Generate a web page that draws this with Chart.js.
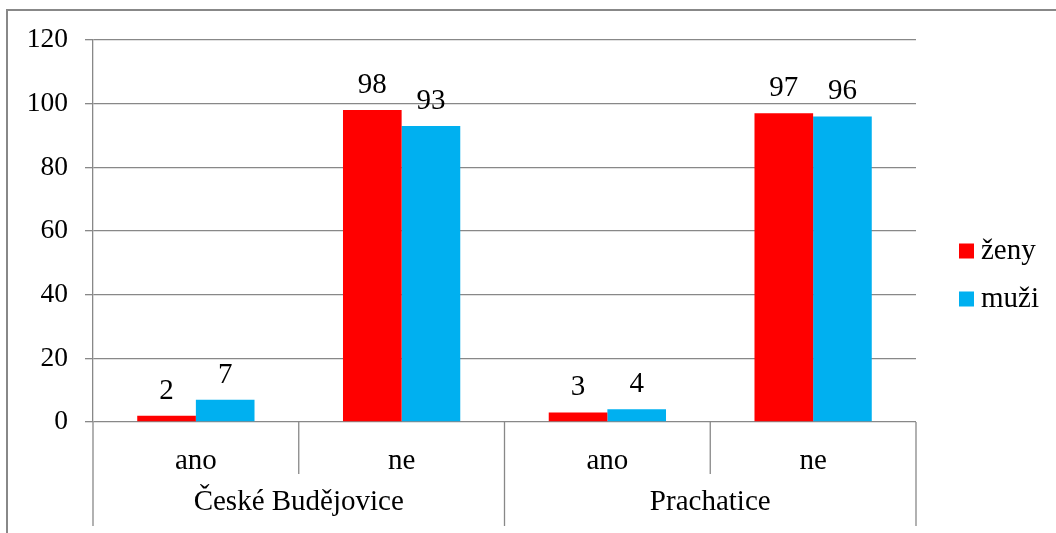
<!DOCTYPE html>
<html>
<head>
<meta charset="utf-8">
<script src="https://cdn.jsdelivr.net/npm/chart.js@4/dist/chart.umd.min.js"></script>
<style>
  html, body { margin: 0; padding: 0; background: #fff; }
  #wrap { width: 1056px; height: 533px; position: relative; }
</style>
</head>
<body>
<div id="wrap"><canvas id="c"></canvas></div>
<script>
// Answers per town, split by answer (ano / ne)
const answerLabels = ['ano', 'ne', 'ano', 'ne'];
const townLabels = ['České Budějovice', 'Prachatice'];
const zenyValues = [2, 98, 3, 97];
const muziValues = [7, 93, 4, 96];
const yTicks = [0, 20, 40, 60, 80, 100, 120];

const FONT = 'Liberation Serif, "Times New Roman", serif';
const GRID = '#888888';

// Outer frame (left and top edge of the chart box)
const framePlugin = {
  id: 'frame',
  afterDraw(chart) {
    const ctx = chart.ctx;
    ctx.save();
    ctx.strokeStyle = GRID;
    ctx.lineWidth = 2;
    ctx.beginPath();
    ctx.moveTo(7, chart.height);
    ctx.lineTo(7, 10);
    ctx.lineTo(chart.width, 10);
    ctx.stroke();
    ctx.restore();
  }
};

// Vertical separators of the two-level category axis
const separatorPlugin = {
  id: 'separators',
  afterDraw(chart) {
    const x = chart.scales.x, x2 = chart.scales.x2;
    const ctx = chart.ctx;
    const n = answerLabels.length;
    const edges = [];
    for (let i = 0; i <= n; i++) {
      let px;
      if (i === 0) px = x.left;
      else if (i === n) px = x.right;
      else px = (x.getPixelForValue(i - 1) + x.getPixelForValue(i)) / 2;
      edges.push(px);
    }
    ctx.save();
    ctx.strokeStyle = GRID;
    ctx.lineWidth = 1.3;
    const top = chart.chartArea.bottom;
    edges.forEach((px, i) => {
      const long = (i % 2 === 0);
      ctx.beginPath();
      ctx.moveTo(px, top);
      ctx.lineTo(px, long ? x2.bottom : x.bottom);
      ctx.stroke();
    });
    ctx.restore();
  }
};

// Value labels above each bar
const valueLabelPlugin = {
  id: 'valueLabels',
  afterDatasetsDraw(chart) {
    const ctx = chart.ctx;
    ctx.save();
    ctx.font = '29px ' + FONT;
    ctx.fillStyle = '#000';
    ctx.textAlign = 'center';
    ctx.textBaseline = 'alphabetic';
    chart.data.datasets.forEach((ds, di) => {
      chart.getDatasetMeta(di).data.forEach((bar, i) => {
        ctx.fillText(String(ds.data[i]), bar.x, bar.y - 17);
      });
    });
    ctx.restore();
  }
};

// Legend on the right: square swatch + series name
const sideLegendPlugin = {
  id: 'sideLegend',
  afterDraw(chart) {
    const ctx = chart.ctx;
    const area = chart.chartArea;
    const boxX = area.right + 43;
    const firstY = 251;
    const step = 48;
    const box = 15;
    ctx.save();
    ctx.font = '29px ' + FONT;
    ctx.textAlign = 'left';
    ctx.textBaseline = 'middle';
    chart.data.datasets.forEach((ds, i) => {
      const cy = firstY + i * step;
      ctx.fillStyle = ds.backgroundColor;
      ctx.fillRect(boxX, cy - box / 2, box, box);
      ctx.fillStyle = '#000';
      ctx.fillText(ds.label, boxX + box + 7, cy);
    });
    ctx.restore();
  }
};

new Chart(document.getElementById('c'), {
  type: 'bar',
  data: {
    labels: answerLabels,
    datasets: [
      { label: 'ženy', data: zenyValues, backgroundColor: '#FF0000', categoryPercentage: 0.57, barPercentage: 1.0 },
      { label: 'muži', data: muziValues, backgroundColor: '#00B0F0', categoryPercentage: 0.57, barPercentage: 1.0 }
    ]
  },
  options: {
    responsive: true,
    maintainAspectRatio: false,
    animation: false,
    devicePixelRatio: 1,
    layout: { padding: { top: 40, left: 27, right: 140, bottom: 7 } },
    plugins: {
      legend: { display: false },
      tooltip: { enabled: false }
    },
    scales: {
      x: {
        grid: { display: false, drawTicks: false },
        border: { display: false },
        ticks: {
          color: '#000', padding: 23, autoSkip: false, maxRotation: 0,
          font: { family: FONT, size: 29, lineHeight: 1.1 }
        },
        afterFit(scale) { scale.height = 52; }
      },
      x2: {
        type: 'category',
        labels: townLabels,
        position: 'bottom',
        offset: true,
        grid: { display: false, drawTicks: false },
        border: { display: false },
        ticks: {
          color: '#000', padding: 12, autoSkip: false, maxRotation: 0,
          font: { family: FONT, size: 29, lineHeight: 1.1 }
        },
        afterFit(scale) { scale.height = 52; }
      },
      y: {
        min: 0,
        max: 120,
        afterBuildTicks(scale) { scale.ticks = yTicks.map(v => ({ value: v })); },
        grid: { color: GRID, lineWidth: 1.3, tickLength: 8 },
        border: { color: GRID, width: 1.3 },
        ticks: {
          color: '#000', padding: 17,
          font: { family: FONT, size: 27.5 }
        },
        afterFit(scale) { scale.width = 66; }
      }
    }
  },
  plugins: [framePlugin, separatorPlugin, valueLabelPlugin, sideLegendPlugin]
});
</script>
</body>
</html>
